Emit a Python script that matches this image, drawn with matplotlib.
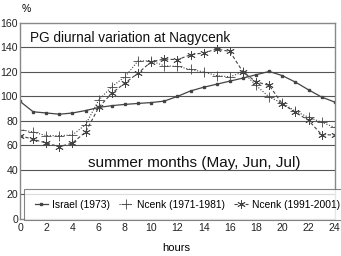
import matplotlib
matplotlib.use("Agg")
from matplotlib import pyplot as plt

plt.rcParams["font.family"] = ["Liberation Sans", "DejaVu Sans"]

HOURS = list(range(25))
ISRAEL = [96, 87.5, 86.5, 85.5, 86.5, 88.5, 91, 92.5, 93.5, 94.3, 95, 96.2, 100,
          104.5, 107.5, 110, 112.5, 115, 117.7, 120.4, 117, 111.7, 105.4, 99.5, 95.4]
NCENK_OLD = [73, 71, 68, 68, 68.6, 77, 97, 108, 116, 129, 129, 125, 124.5,
             122, 120, 117, 116, 120, 109, 99.5, 94.5, 88, 83, 79, 74.7]
NCENK_NEW = [68, 65, 62, 59, 62, 71, 91, 102.7, 110.9, 119, 128.3, 130.5, 130,
             134, 135.5, 138.7, 136.7, 120, 112, 109, 94, 87, 80.5, 68.8, 68.6]

GRAY = "#444444"

fig = plt.figure(figsize=(3.41, 2.56), dpi=100)
ax = fig.add_axes([0.0587, 0.1445, 0.923, 0.766])

for y in range(20, 160, 20):
    ax.axhline(y, color="#555555", lw=0.8, zorder=0)

ax.plot(HOURS, ISRAEL, color=GRAY, lw=0.9, marker="s", ms=1.8,
        label="Israel (1973)")
ax.plot(HOURS, NCENK_OLD, color=GRAY, lw=0.8, ls=(0, (1, 1.5)), marker="+",
        ms=7, mew=0.6, label="Ncenk (1971-1981)")
ax.plot(HOURS, NCENK_NEW, color=GRAY, lw=0.8, ls=(0, (3, 2)), marker=(6, 2, 0),
        ms=6, mew=0.6, label="Ncenk (1991-2001)")

ax.set_xlim(0, 24)
ax.set_ylim(0, 160)
ax.set_xticks(range(0, 25, 2))
ax.set_yticks(range(0, 161, 20))
ax.tick_params(length=0, labelsize=7.6, colors="#222222")
ax.tick_params(axis="y", pad=1.5)
ax.tick_params(axis="x", pad=3)
for s in ax.spines.values():
    s.set_color("#888888")
    s.set_linewidth(1.0)

ax.text(0.75, 148, "PG diurnal variation at Nagycenk", fontsize=9.8,
        va="center", ha="left", color="#111111")
ax.text(13.3, 46, "summer months (May, Jun, Jul)", fontsize=11,
        va="center", ha="center", color="#111111")

fig.text(0.077, 0.965, "%", fontsize=7.5, ha="center", va="center")
fig.text(0.516, 0.03, "hours", fontsize=8, ha="center", va="center")

leg = ax.legend(loc="lower left", bbox_to_anchor=(0.014, -0.005), ncol=3,
                fontsize=7.4, frameon=True, fancybox=False, shadow=False,
                handlelength=1.3, handletextpad=0.4, columnspacing=0.9,
                borderpad=1.0, borderaxespad=0)
leg.get_frame().set_edgecolor("#666666")
leg.get_frame().set_linewidth(0.8)

fig.savefig("out.png", dpi=100)
